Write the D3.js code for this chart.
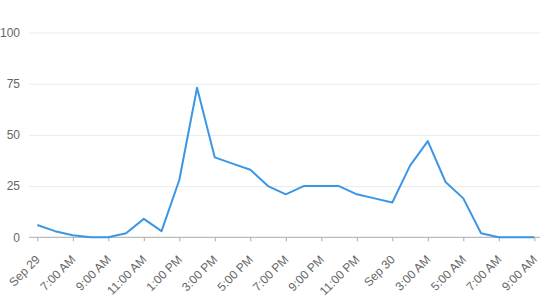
<!DOCTYPE html>
<html>
<head>
<meta charset="utf-8">
<script src="https://cdn.jsdelivr.net/npm/d3@7"></script>
<style>
  body { margin: 0; background: #fff; }
  text { font-family: "Liberation Sans", Arial, sans-serif; }
</style>
</head>
<body>
<div id="root"></div>
<script>
// hourly values
const values = [6, 3, 1, 0, 0, 2, 9, 3, 28, 73, 39, 36, 33, 25, 21, 25, 25, 25, 21, 19, 17, 35, 47, 27, 19, 2, 0, 0, 0]
const tickLabels = ["Sep 29", "7:00 AM", "9:00 AM", "11:00 AM", "1:00 PM", "3:00 PM", "5:00 PM",
  "7:00 PM", "9:00 PM", "11:00 PM", "Sep 30", "3:00 AM", "5:00 AM", "7:00 AM", "9:00 AM"]
const yTicks = [0, 25, 50, 75, 100]

const width = 543, height = 299
const plot = { left: 29, right: 540, top: 32.5, bottom: 237.3 }

const svg = d3.select("#root").append("svg")
  .attr("width", width)
  .attr("height", height)

const x = d3.scalePoint()
  .domain(d3.range(values.length))
  .range([37.3, 534.3])

const y = d3.scaleLinear()
  .domain([0, 100])
  .range([plot.bottom, plot.top])

// gridlines + y labels
const yAxis = svg.append("g")
  .attr("transform", `translate(${plot.left},0)`)
  .call(d3.axisLeft(y).tickValues(yTicks).tickSize(-(plot.right - plot.left)).tickPadding(9))
yAxis.select(".domain").remove()
yAxis.selectAll(".tick line").attr("stroke", "#ebebeb")
yAxis.selectAll(".tick")
  .filter(d => d === 0)
  .select("line").remove()
yAxis.selectAll("text")
  .attr("fill", "#666")
  .attr("font-size", 12)
  .attr("font-family", "Liberation Sans, Arial, sans-serif")

// x axis: one tick every 2 hours
const tickIdx = d3.range(0, values.length, 2)
const xAxis = svg.append("g")
  .attr("transform", `translate(0,${plot.bottom})`)
  .call(d3.axisBottom(x).tickValues(tickIdx).tickSize(4).tickSizeOuter(0)
    .tickFormat((d, i) => tickLabels[i]))
xAxis.select(".domain")
  .attr("d", `M${plot.left},0H${plot.right}`)
  .attr("stroke", "#aaa")
xAxis.selectAll(".tick line").attr("stroke", "#aaa")
xAxis.selectAll("text")
  .attr("fill", "#666")
  .attr("font-size", 12)
  .attr("font-family", "Liberation Sans, Arial, sans-serif")
  .attr("text-anchor", "end")
  .attr("dy", null)
  .attr("y", 0)
  .attr("transform", "translate(3,23) rotate(-45)")

// the line
const line = d3.line()
  .x((d, i) => x(i))
  .y(d => y(d))

svg.append("path")
  .datum(values)
  .attr("d", line)
  .attr("fill", "none")
  .attr("stroke", "#3b97e6")
  .attr("stroke-width", 2)
  .attr("stroke-linejoin", "round")
</script>
</body>
</html>
